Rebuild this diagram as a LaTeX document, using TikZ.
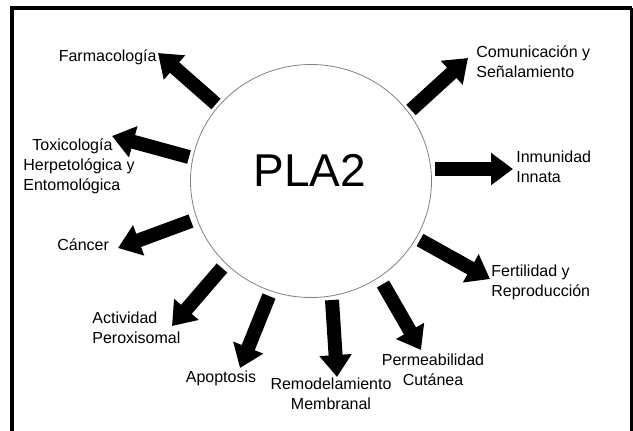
\documentclass[tikz,border=0pt]{standalone}
\usepackage{fontspec}
\setmainfont{Liberation Sans}
\usetikzlibrary{arrows.meta,shapes.geometric}
\begin{document}
\begin{tikzpicture}[x=0.5pt,y=-0.5pt,
  lbl/.style={inner sep=0pt, font=\fontsize{8}{10}\selectfont},
  fatarrow/.style={line width=7pt, -{Triangle[width=15.5pt,length=11pt]}}]
\useasboundingbox (0,0) rectangle (633,430);
% open frame
\draw[line width=2pt] (12,431) -- (12,8) -- (632,8);
\draw[line width=1.5pt] (631,8) -- (631,431);
% centre
\node[draw=gray, ellipse, line width=0.4pt, minimum width=120.5pt, minimum height=116.5pt] (pla) at (311,181) {};
\node[inner sep=0pt, font=\fontsize{23}{28}\selectfont] (planame) at (310,170) {PLA2};
% labels
\node[lbl, anchor=east] (farm) at (157,57) {Farmacología};
\node[lbl, anchor=west, align=left] (toxi) at (23,166) {\hspace*{4.5pt}Toxicología\\Herpetológica y\\Entomológica};
\node[lbl, anchor=west] (canc) at (57,245) {Cáncer};
\node[lbl, anchor=west, align=left] (acti) at (92,328) {Actividad\\Peroxisomal};
\node[lbl] (apop) at (221,378) {Apoptosis};
\node[lbl, align=center] (remo) at (331,394) {Remodelamiento\\Membranal};
\node[lbl, align=center] (perm) at (433,370) {Permeabilidad\\Cutánea};
\node[lbl, anchor=west, align=left] (fert) at (491,282) {Fertilidad y\\Reproducción};
\node[lbl, anchor=west, align=left] (inmu) at (516,167) {Inmunidad\\Innata};
\node[lbl, anchor=west, align=left] (comu) at (476,62) {Comunicación y\\Señalamiento};
% arrow ends
\coordinate (farmTail) at (216,104);  \coordinate (farmTip) at (158,53);
\coordinate (toxiTail) at (189,157);  \coordinate (toxiTip) at (112,136);
\coordinate (cancTail) at (191,221);  \coordinate (cancTip) at (118,248);
\coordinate (actiTail) at (222,268);  \coordinate (actiTip) at (172,326);
\coordinate (apopTail) at (269,296);  \coordinate (apopTip) at (240,368);
\coordinate (remoTail) at (332,300);  \coordinate (remoTip) at (337,377);
\coordinate (permTail) at (383,284);  \coordinate (permTip) at (421,350);
\coordinate (fertTail) at (420,240);  \coordinate (fertTip) at (490,279);
\coordinate (inmuTail) at (435,169);  \coordinate (inmuTip) at (513,169);
\coordinate (comuTail) at (411,110);  \coordinate (comuTip) at (468,58);
\foreach \a in {farm,toxi,canc,acti,apop,remo,perm,fert,inmu,comu}
  \draw[fatarrow] (\a Tail) -- (\a Tip);
\end{tikzpicture}
\end{document}
